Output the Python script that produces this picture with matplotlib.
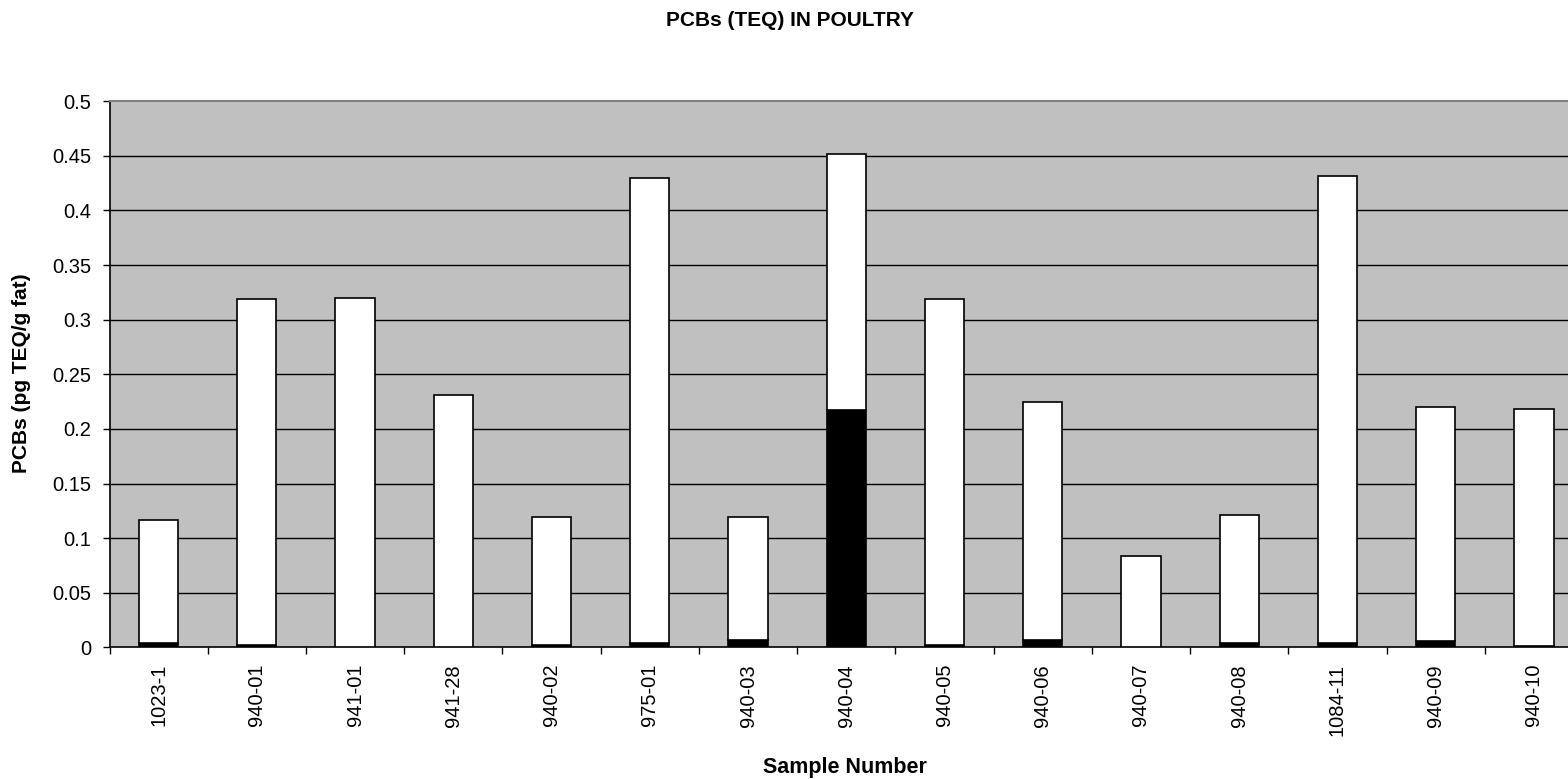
import matplotlib
matplotlib.use("Agg")
import matplotlib.pyplot as plt
import numpy as np

plt.rcParams['font.family'] = ['Liberation Sans', 'DejaVu Sans']

samples = ["1023-1", "940-01", "941-01", "941-28", "940-02", "975-01", "940-03",
           "940-04", "940-05", "940-06", "940-07", "940-08", "1084-11", "940-09", "940-10"]
totals = [0.117, 0.319, 0.320, 0.231, 0.119, 0.430, 0.119,
          0.452, 0.319, 0.225, 0.084, 0.121, 0.432, 0.220, 0.218]
black_part = [0.004, 0.002, 0.0005, 0.0005, 0.002, 0.004, 0.007,
              0.217, 0.002, 0.007, 0.0005, 0.004, 0.004, 0.006, 0.001]
white_part = [t - b for t, b in zip(totals, black_part)]
yticks = [0, 0.05, 0.1, 0.15, 0.2, 0.25, 0.3, 0.35, 0.4, 0.45, 0.5]

W, H = 1568, 779
fig = plt.figure(figsize=(W / 100, H / 100), dpi=100)
left, right, bottom, top = 109.5, 1583, 647.3, 101.3
ax = fig.add_axes([left / W, 1 - bottom / H, (right - left) / W, (bottom - top) / H])
ax.set_facecolor('#C0C0C0')

x = np.arange(len(samples))
ax.set_xlim(-0.5, len(samples) - 0.5)
ax.set_ylim(0, 0.5)

for yv in yticks[1:-1]:
    ax.axhline(yv, color='black', lw=1.0, zorder=1)

ax.bar(x, black_part, width=0.4, color='black', edgecolor='black', lw=1.2, zorder=3)
ax.bar(x, white_part, bottom=black_part, width=0.4, color='white', edgecolor='black', lw=1.2, zorder=3)

ax.set_yticks(yticks)
ax.set_yticklabels(['{:g}'.format(v) for v in yticks], fontsize=14.5)
ax.set_xticks(x)
ax.set_xticklabels(samples, rotation=90, fontsize=14.5)
ax.set_xticks(np.arange(-0.5, len(samples), 1.0), minor=True)
ax.tick_params(axis='x', which='major', length=0, pad=12)
ax.tick_params(axis='x', which='minor', length=5, width=1, direction='out')
ax.tick_params(axis='y', which='major', length=5, width=1, direction='out', pad=8)

for s in ['left', 'bottom']:
    ax.spines[s].set_color('black')
    ax.spines[s].set_linewidth(1.2)
ax.spines['top'].set_color('#808080')
ax.spines['top'].set_linewidth(1.5)
ax.spines['right'].set_visible(False)

fig.text(790 / W, 1 - 21 / H, 'PCBs (TEQ) IN POULTRY', ha='center', va='center',
         fontsize=15, fontweight='bold')
fig.text(845 / W, 1 - 767 / H, 'Sample Number', ha='center', va='center',
         fontsize=15.5, fontweight='bold')
fig.text(22 / W, 1 - 373 / H, 'PCBs (pg TEQ/g fat)', ha='center', va='center',
         rotation=90, fontsize=15, fontweight='bold')

fig.savefig('out.png', dpi=100)
